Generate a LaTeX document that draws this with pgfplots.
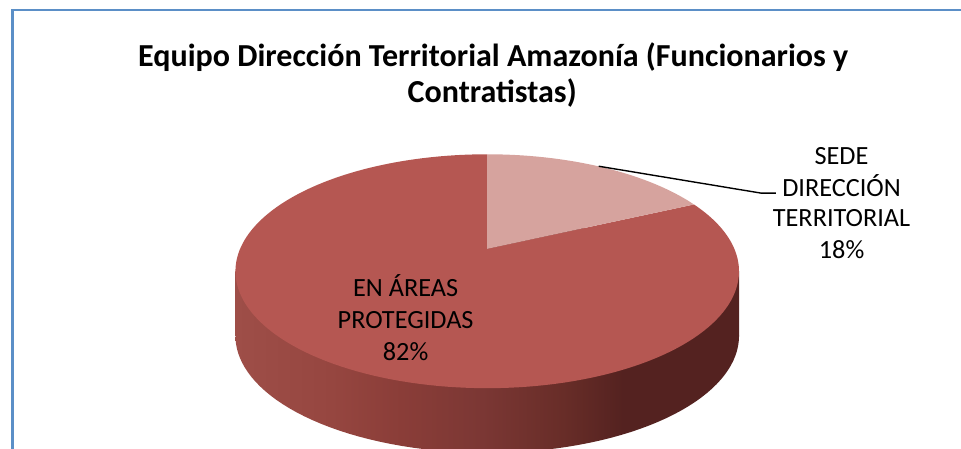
\documentclass[border=0pt]{standalone}
\usepackage{fontspec}
\setmainfont{Carlito}
\usepackage{pgfplots}
\usepackage{pgfplotstable}
\pgfplotsset{compat=1.18}
\definecolor{mainc}{RGB}{181,87,82}
\definecolor{lightc}{RGB}{214,163,158}
\definecolor{framec}{RGB}{91,143,199}
\definecolor{s1}{RGB}{158,78,72}
\definecolor{s2}{RGB}{150,70,64}
\definecolor{s3}{RGB}{138,61,56}
\definecolor{s4}{RGB}{123,55,52}
\definecolor{s5}{RGB}{104,45,40}
\definecolor{s6}{RGB}{84,34,32}
\pgfdeclarehorizontalshading{sideshade}{100bp}{color(0bp)=(s1); color(25bp)=(s1); color(34.5bp)=(s2); color(41.5bp)=(s3); color(49.5bp)=(s4); color(57.5bp)=(s5); color(63.5bp)=(s6); color(100bp)=(s6)}
\pgfplotstableread{
slice value
Sede 18
Areas 82
}\piedata
\begin{document}
\pgfplotstablegetelem{0}{value}\of\piedata \let\vSede\pgfplotsretval
\pgfmathsetmacro{\aA}{90-3.6*\vSede}
\begin{tikzpicture}
\begin{axis}[
  scale only axis, width=480.5pt, height=225.5pt,
  xmin=0, xmax=961, ymin=0, ymax=451, y dir=reverse,
  axis lines=none,
  declare function={PX(\t)=485+248.3*cos(\t)/(1+0.1915*sin(\t));
                    PY(\t)=250-113.2*sin(\t)/(1+0.1915*sin(\t));},
]
\addplot[draw=none] coordinates {(0,0) (961,451)};
% frame
\addplot[draw=framec, line width=1.1pt] coordinates {(8,480) (8,10) (990,10)};
% side (cylinder)
\addplot[shading=sideshade, draw=none, domain=0:360, samples=160, variable=\t] ({PX(\t)},{PY(\t)+65}) -- cycle;
\addplot[shading=sideshade, draw=none] coordinates {(232,272.5) (738,272.5) (738,337.5) (232,337.5)} -- cycle;
% top face
\addplot[fill=mainc, draw=none, domain=-270:\aA, samples=160, variable=\t] ({PX(\t)},{PY(\t)}) -- (axis cs:485,250) -- cycle;
\addplot[fill=lightc, draw=none, domain=\aA:90, samples=50, variable=\t] ({PX(\t)},{PY(\t)}) -- (axis cs:485,250) -- cycle;
% leader
\addplot[black, line width=0.7pt] coordinates {(597,167) (760,194) (775,194)};
% texts
\node[anchor=base, font=\fontsize{16.1}{19}\selectfont\bfseries] at (axis cs:491,67) {Equipo Dirección Territorial Amazonía (Funcionarios y};
\node[anchor=base, font=\fontsize{16.1}{19}\selectfont\bfseries] at (axis cs:490,103) {Contratistas)};
\node[anchor=base, font=\fontsize{13.2}{16}\selectfont] at (axis cs:841,165) {SEDE};
\node[anchor=base, font=\fontsize{13.2}{16}\selectfont] at (axis cs:841,197) {DIRECCIÓN};
\node[anchor=base, font=\fontsize{13.2}{16}\selectfont] at (axis cs:841,228) {TERRITORIAL};
\node[anchor=base, font=\fontsize{13.2}{16}\selectfont] at (axis cs:841,260) {18\%};
\node[anchor=base, font=\fontsize{13.2}{16}\selectfont] at (axis cs:403,298) {EN ÁREAS};
\node[anchor=base, font=\fontsize{13.2}{16}\selectfont] at (axis cs:403,330) {PROTEGIDAS};
\node[anchor=base, font=\fontsize{13.2}{16}\selectfont] at (axis cs:403,362) {82\%};
\end{axis}
\end{tikzpicture}
\end{document}
